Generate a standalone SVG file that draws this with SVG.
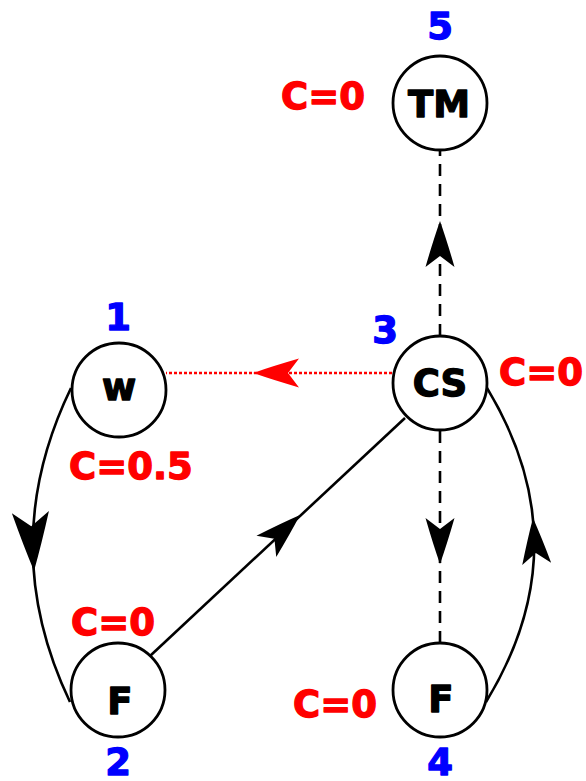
<svg xmlns="http://www.w3.org/2000/svg" xmlns:xlink="http://www.w3.org/1999/xlink" width="586" height="781" viewBox="0 0 586 781">
  <style>
    .node circle { fill: #ffffff; stroke: #000000; stroke-width: 2.8; }
    .name, .num, .cost { font-family: "DejaVu Sans", Verdana, sans-serif; font-weight: bold; font-size: 37px; stroke-width: 1.3; stroke-linejoin: round; }
    .name { fill: #000000; stroke: #000000; text-anchor: middle; }
    .num { fill: #0000ff; stroke: #0000ff; text-anchor: middle; }
    .cost { fill: #ff0000; stroke: #ff0000; }
    .edge { fill: none; stroke: #000000; stroke-width: 2.6; }
    .dash { stroke-dasharray: 12 8; }
    .dot { stroke: #ff0000; stroke-dasharray: 3 2; }
  </style>
  <defs>
    <!-- concave arrow head, tip at the origin, pointing along +x -->
    <path id="head" d="M0,0 Q-20,-7 -46,-14.5 L-35,0 L-46,14.5 Q-20,7 0,0 Z"/>
  </defs>

  <!-- connectors -->
  <g id="connectors">
    <line class="edge dash" x1="440" y1="336" x2="440" y2="150"/>
    <use xlink:href="#head" href="#head" transform="translate(440,221) rotate(-90)"/>

    <line class="edge dot" x1="392" y1="373" x2="166" y2="373"/>
    <use xlink:href="#head" href="#head" fill="#ff0000" transform="translate(253,373) rotate(180)"/>

    <path class="edge" d="M71,388 Q-5,545 70,702"/>
    <use xlink:href="#head" href="#head" transform="translate(34,571) rotate(86.5) scale(1.28)"/>

    <line class="edge" x1="150" y1="656" x2="405" y2="418"/>
    <use xlink:href="#head" href="#head" transform="translate(300,515) rotate(-43)"/>

    <line class="edge dash" x1="440" y1="431" x2="440" y2="643"/>
    <use xlink:href="#head" href="#head" transform="translate(440,564) rotate(90)"/>

    <path class="edge" d="M486,702 Q582,545 487,388"/>
    <use xlink:href="#head" href="#head" transform="translate(533,518) rotate(-94.6)"/>
  </g>

  <!-- nodes -->
  <g id="node-tm" class="node">
    <circle cx="440" cy="103" r="47"/>
    <text class="name" x="439" y="117">TM</text>
    <text class="num" x="440" y="39">5</text>
    <text class="cost" x="281" y="109">C=0</text>
  </g>

  <g id="node-cs" class="node">
    <circle cx="440" cy="383" r="47"/>
    <text class="name" x="440" y="396">CS</text>
    <text class="num" x="385" y="343">3</text>
    <text class="cost" x="499" y="385">C=0</text>
  </g>

  <g id="node-w" class="node">
    <circle cx="119" cy="390" r="47"/>
    <text class="name" x="119" y="400">w</text>
    <text class="num" x="118" y="330">1</text>
    <text class="cost" x="69" y="479">C=0.5</text>
  </g>

  <g id="node-f2" class="node">
    <circle cx="118" cy="690" r="47"/>
    <text class="name" x="120" y="714">F</text>
    <text class="num" x="118" y="775">2</text>
    <text class="cost" x="71" y="635">C=0</text>
  </g>

  <g id="node-f4" class="node">
    <circle cx="440" cy="690" r="47"/>
    <text class="name" x="441" y="712">F</text>
    <text class="num" x="440" y="775">4</text>
    <text class="cost" x="293" y="717">C=0</text>
  </g>
</svg>
